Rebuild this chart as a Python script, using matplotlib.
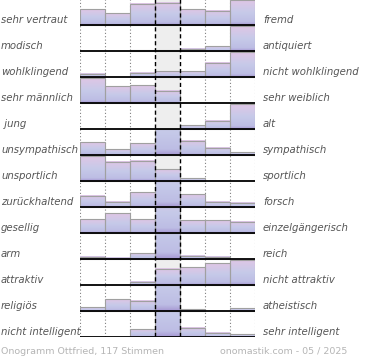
import numpy as np
import matplotlib
matplotlib.use("Agg")
import matplotlib.pyplot as plt
import matplotlib.transforms as mtransforms
from matplotlib.colors import LinearSegmentedColormap
from matplotlib.patches import Rectangle

left_labels = ["sehr vertraut", "modisch", "wohlklingend", "sehr männlich", " jung",
               "unsympathisch", "unsportlich", "zurückhaltend", "gesellig", "arm",
               "attraktiv", "religiös", "nicht intelligent"]
right_labels = ["fremd", "antiquiert", "nicht wohlklingend", "sehr weiblich", "alt",
                "sympathisch", "sportlich", "forsch", "einzelgängerisch", "reich",
                "nicht attraktiv", "atheistisch", "sehr intelligent"]

# bar heights in percent of one row (values above 100 are clipped)
values = [
    [60, 45, 81, 86, 60, 55, 96],
    [0, 0, 2, 2, 8, 19, 96],
    [12, 0, 17, 22, 22, 55, 96],
    [96, 65, 69, 47, 0, 0, 0],
    [0, 0, 0, 0, 14, 32, 95],
    [49, 22, 45, 185, 54, 28, 11],
    [95, 74, 78, 46, 10, 0, 0],
    [43, 20, 57, 170, 50, 20, 17],
    [53, 76, 53, 160, 50, 50, 43],
    [9, 5, 22, 215, 12, 9, 0],
    [0, 0, 13, 62, 68, 83, 97],
    [14, 46, 40, 200, 7, 0, 10],
    [0, 0, 30, 195, 36, 17, 10],
]
footer_left = "Onogramm Ottfried, 117 Stimmen"
footer_right = "onomastik.com - 05 / 2025"

cmap = LinearSegmentedColormap.from_list(
    "ono", [(0.0, "#a596d2"), (0.12, "#bdbde4"), (0.5, "#c6cae9"), (1.0, "#e0c6e5")])
grad = np.linspace(1, 0, 256).reshape(-1, 1)

fig = plt.figure(figsize=(3.7, 3.6), dpi=100)
ax = fig.add_axes([80 / 370, 23 / 360, 175 / 370, 338 / 360])
n_rows = len(values)
n_cols = len(values[0])
ax.set_xlim(0, n_cols)
ax.set_ylim(n_rows, 0)
ax.axis("off")

mid = n_cols // 2
for i, row in enumerate(values):
    ax.add_patch(Rectangle((mid, i), 1, 1, color="#eeeeee", lw=0, zorder=0))
    for c, v in enumerate(row):
        h = v / 100
        if h <= 0:
            continue
        im = ax.imshow(grad, cmap=cmap, vmin=0, vmax=1, aspect="auto",
                       extent=(c, c + 1, i + 1, i + 1 - h), origin="upper",
                       interpolation="bilinear", zorder=2)
        im.set_clip_path(Rectangle((c, i), 1, 1, transform=ax.transData))
        hv = min(h, 1)
        ax.add_patch(Rectangle((c, i + 1 - hv), 1, hv, fill=False,
                               edgecolor="#a0a0a0", lw=0.8, zorder=3))
    ax.hlines(i + 1, 0, n_cols, color="black", lw=1.3, zorder=6)

for c in range(n_cols + 1):
    if c in (mid, mid + 1):
        ax.vlines(c, 0, n_rows, color="black", lw=1.0,
                  linestyles=(0, (3, 2)), zorder=5)
    else:
        ax.vlines(c, 0, n_rows, color="#808080", lw=0.8,
                  linestyles=(0, (1, 2)), zorder=1)

trans = mtransforms.blended_transform_factory(fig.transFigure, ax.transData)
for i in range(n_rows):
    y = i + 1 - 5 / 26
    ax.text(1 / 370, y, left_labels[i], transform=trans, ha="left", va="center",
            fontsize=7.3, style="italic", color="#555555")
    ax.text(263 / 370, y, right_labels[i], transform=trans, ha="left", va="center",
            fontsize=7.3, style="italic", color="#555555")

fig.text(1 / 370, 8.5 / 360, footer_left, ha="left", va="center",
         fontsize=6.8, color="#b5b5b5")
fig.text(347 / 370, 8.5 / 360, footer_right, ha="right", va="center",
         fontsize=6.8, color="#b5b5b5")

fig.savefig("out.png", dpi=100)
plt.close(fig)
